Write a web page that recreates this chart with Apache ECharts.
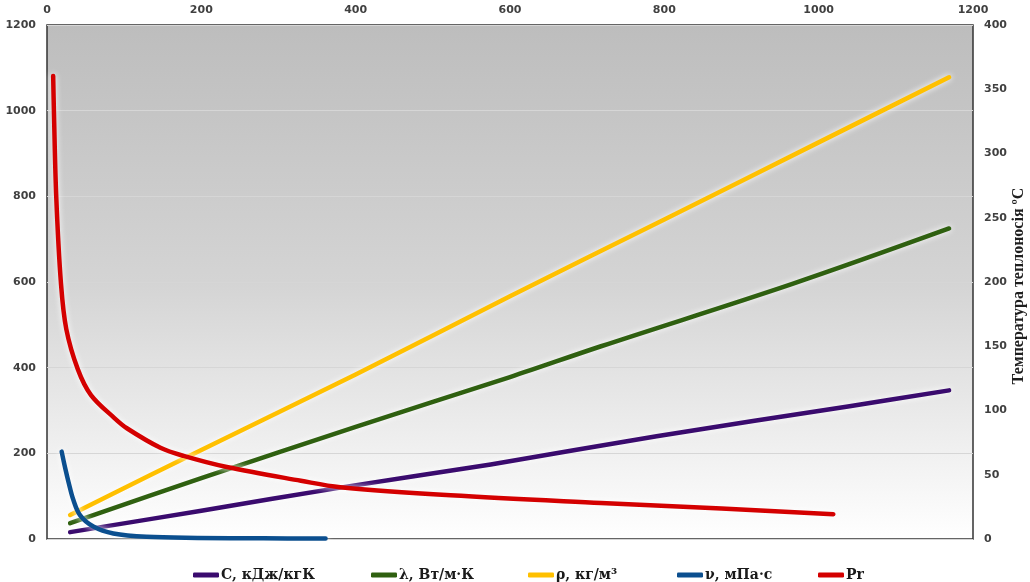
<!DOCTYPE html>
<html>
<head>
<meta charset="utf-8">
<script src="https://cdn.jsdelivr.net/npm/echarts@6/dist/echarts.min.js"></script>
<style>
  html, body { margin: 0; padding: 0; background: #ffffff; }
  #chart { width: 1030px; height: 582px; }
</style>
</head>
<body>
<div id="chart"></div>
<script>
// Series names shown in the legend
const seriesNames = ['C, кДж/кгК', 'λ, Вт/м·К', 'ρ, кг/м³', 'ν, мПа·с', 'Pr'];

// [x, y] points of each curve (top axis / left axis units)
const heatCapacity = [[30, 16], [200, 66], [380, 120], [575, 174], [790, 240], [1040, 310], [1169, 347]];
const conductivity = [[30, 37], [200, 142], [400, 262], [600, 378], [718, 450], [965, 595], [1169, 725]];
const density      = [[30, 56], [200, 208], [400, 384], [600, 567], [800, 746], [1000, 926], [1169, 1078]];
const viscosity    = [[19, 204], [24, 162], [28, 132], [34, 92], [43, 55], [60, 29], [86, 13], [129, 5], [195, 2.5], [280, 1.5], [361, 1]];
const prandtl      = [[8, 1081], [9, 996], [12, 798], [18, 599], [25, 490], [40, 396], [57, 336], [87, 283], [104, 258],
                      [147, 213], [177, 194], [233, 168], [329, 136], [380, 121], [523, 102], [718, 84], [874, 71], [1019, 58]];

// Axis ranges and steps
const xRange = [0, 1200], xStep = 200;
const yLeftRange = [0, 1200], yLeftStep = 200;
const yRightRange = [0, 400], yRightStep = 50;
const rightAxisTitle = 'Температура теплоносія ºС';

const seriesData = [heatCapacity, conductivity, density, viscosity, prandtl];
const colors = ['#3a0b6e', '#2f6010', '#ffc000', '#0b4f8f', '#d40000'];
const legendLefts = [188, 366, 523, 672, 813];

const chart = echarts.init(document.getElementById('chart'));

const axisLabelStyle = {
  fontFamily: 'DejaVu Sans',
  fontWeight: 'bold',
  fontSize: 11,
  color: '#404040',
  formatter: (v) => String(v)
};

const option = {
  backgroundColor: '#ffffff',
  animation: false,
  color: colors,
  grid: {
    left: 47, right: 57, top: 25, bottom: 43,
    outerBoundsMode: 'none',
    show: true,
    borderColor: '#333333',
    borderWidth: 1.5,
    backgroundColor: new echarts.graphic.LinearGradient(0, 0, 0, 1, [
      { offset: 0, color: '#bdbdbd' },
      { offset: 0.5, color: '#d4d4d4' },
      { offset: 1, color: '#ffffff' }
    ])
  },
  // Right axis title, written bottom-to-top beside the temperature scale
  graphic: [{
    type: 'text',
    x: 1019,
    y: 286,
    rotation: Math.PI / 2,
    style: {
      text: rightAxisTitle,
      fontFamily: 'Liberation Serif',
      fontWeight: 'bold',
      fontSize: 16,
      fill: '#1f1f1f',
      align: 'center',
      verticalAlign: 'middle'
    }
  }],
  legend: seriesNames.map((name, i) => ({
    data: [name],
    left: legendLefts[i],
    top: 563,
    icon: 'roundRect',
    itemWidth: 26,
    itemHeight: 5,
    itemGap: 0,
    textStyle: {
      fontFamily: 'DejaVu Serif',
      fontWeight: 'bold',
      fontSize: 14,
      color: '#1a1a1a',
      padding: [0, 0, 0, -3]
    }
  })),
  xAxis: {
    type: 'value',
    position: 'top',
    min: xRange[0], max: xRange[1], interval: xStep,
    axisLine: { show: false },
    axisTick: { show: false },
    splitLine: { show: false },
    axisLabel: Object.assign({ margin: 9 }, axisLabelStyle)
  },
  yAxis: [
    {
      type: 'value',
      position: 'left',
      min: yLeftRange[0], max: yLeftRange[1], interval: yLeftStep,
      axisLine: { show: false },
      axisTick: { show: false },
      splitLine: { show: true, lineStyle: { color: '#d6d6d6', width: 1 } },
      axisLabel: Object.assign({ margin: 11 }, axisLabelStyle)
    },
    {
      type: 'value',
      position: 'right',
      min: yRightRange[0], max: yRightRange[1], interval: yRightStep,
      axisLine: { show: false },
      axisTick: { show: false },
      splitLine: { show: false },
      axisLabel: Object.assign({ margin: 11 }, axisLabelStyle)
    }
  ],
  series: seriesNames.map((name, i) => ({
    name: name,
    type: 'line',
    yAxisIndex: 0,
    data: seriesData[i],
    smooth: 0.35,
    showSymbol: false,
    symbol: 'none',
    lineStyle: {
      width: 4.5,
      color: colors[i],
      cap: 'round',
      join: 'round',
      shadowColor: 'rgba(255,255,255,1)',
      shadowBlur: 6
    },
    itemStyle: { color: colors[i] }
  }))
};

chart.setOption(option);
</script>
</body>
</html>
